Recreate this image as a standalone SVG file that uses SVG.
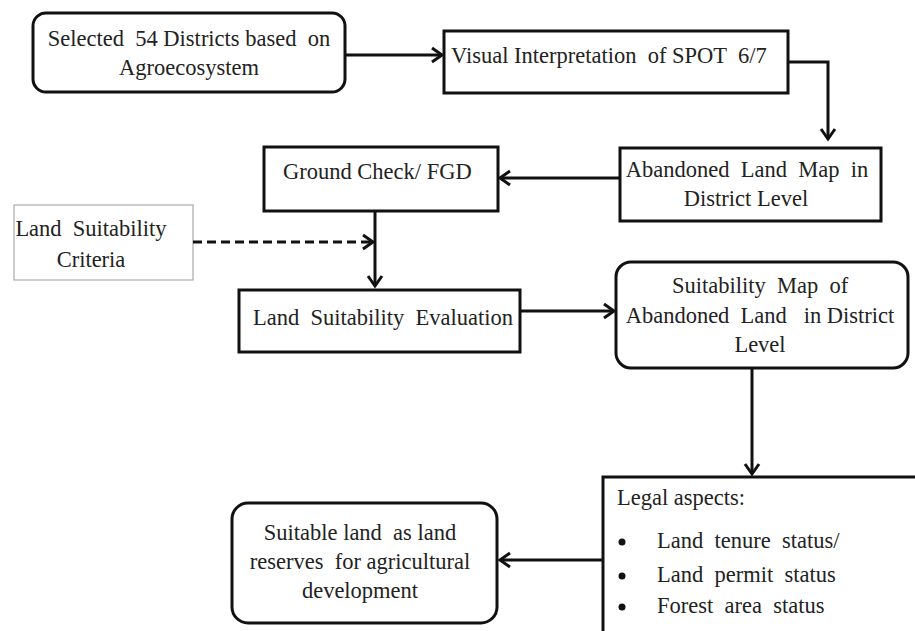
<svg xmlns="http://www.w3.org/2000/svg" width="915" height="631" viewBox="0 0 915 631">
<style>
.box{fill:#fff;stroke:#111;stroke-width:3}
.thin{fill:#fff;stroke:#aaa;stroke-width:1.2}
text{font-family:'Liberation Serif','Times New Roman',serif;font-size:22.5px;fill:#222}
.c{text-anchor:middle}
.ln{fill:none;stroke:#111;stroke-width:3}
.dash{fill:none;stroke:#111;stroke-width:3;stroke-dasharray:9 5}
</style>
<defs>
<marker id="ah" markerUnits="userSpaceOnUse" markerWidth="20" markerHeight="20" viewBox="-14 -10 16 20" refX="0" refY="0" orient="auto">
<path d="M-10,-7 L0,0 L-10,7" fill="none" stroke="#111" stroke-width="3"/>
</marker>
</defs>
<g id="n1"><rect class="box" x="33" y="13" width="312" height="79" rx="13"/>
<text class="c" x="189" y="46" xml:space="preserve">Selected  54 Districts based  on</text>
<text class="c" x="189" y="75">Agroecosystem</text></g>
<g id="n2"><rect class="box" x="444" y="31" width="344" height="62"/>
<text x="451" y="63" xml:space="preserve">Visual Interpretation  of SPOT  6/7</text></g>
<g id="n3"><rect class="box" x="620" y="148" width="261" height="73"/>
<text class="c" x="747" y="177" xml:space="preserve">Abandoned  Land  Map  in</text>
<text class="c" x="746" y="206">District Level</text></g>
<g id="n4"><rect class="box" x="264" y="147" width="234" height="64"/>
<text x="283" y="179">Ground Check/ FGD</text></g>
<g id="n5"><rect class="thin" x="14" y="205" width="179" height="75"/>
<text class="c" x="91" y="236" xml:space="preserve">Land  Suitability</text>
<text class="c" x="91" y="267">Criteria</text></g>
<g id="n6"><rect class="box" x="239" y="290" width="281" height="62"/>
<text x="253" y="325" xml:space="preserve">Land  Suitability  Evaluation</text></g>
<g id="n7"><rect class="box" x="616" y="262" width="292" height="106" rx="15"/>
<text class="c" x="760" y="293" xml:space="preserve">Suitability  Map  of</text>
<text class="c" x="760" y="323" xml:space="preserve">Abandoned  Land   in District</text>
<text class="c" x="760" y="352">Level</text></g>
<g id="n8"><rect class="box" x="603" y="477" width="330" height="170"/>
<text x="617" y="505">Legal aspects:</text>
<circle cx="622" cy="542" r="3.5" fill="#111"/>
<circle cx="622" cy="576" r="3.5" fill="#111"/>
<circle cx="622" cy="607" r="3.5" fill="#111"/>
<text x="657" y="548" xml:space="preserve">Land  tenure  status/</text>
<text x="657" y="582" xml:space="preserve">Land  permit  status</text>
<text x="657" y="613" xml:space="preserve">Forest  area  status</text></g>
<g id="n9"><rect class="box" x="232" y="503" width="265" height="120" rx="16"/>
<text class="c" x="360" y="540" xml:space="preserve">Suitable land  as land</text>
<text class="c" x="360" y="569" xml:space="preserve">reserves  for agricultural</text>
<text class="c" x="360" y="598">development</text></g>
<g id="connectors">
<path class="ln" d="M345,55 H442" marker-end="url(#ah)"/>
<path class="ln" d="M788,62 H828 V139" marker-end="url(#ah)"/>
<path class="ln" d="M620,178 H500" marker-end="url(#ah)"/>
<path class="ln" d="M375,211 V286" marker-end="url(#ah)"/>
<path class="dash" d="M193,242 H373" marker-end="url(#ah)"/>
<path class="ln" d="M521,311 H614" marker-end="url(#ah)"/>
<path class="ln" d="M752,368 V474" marker-end="url(#ah)"/>
<path class="ln" d="M603,560 H500" marker-end="url(#ah)"/>
</g>
</svg>
